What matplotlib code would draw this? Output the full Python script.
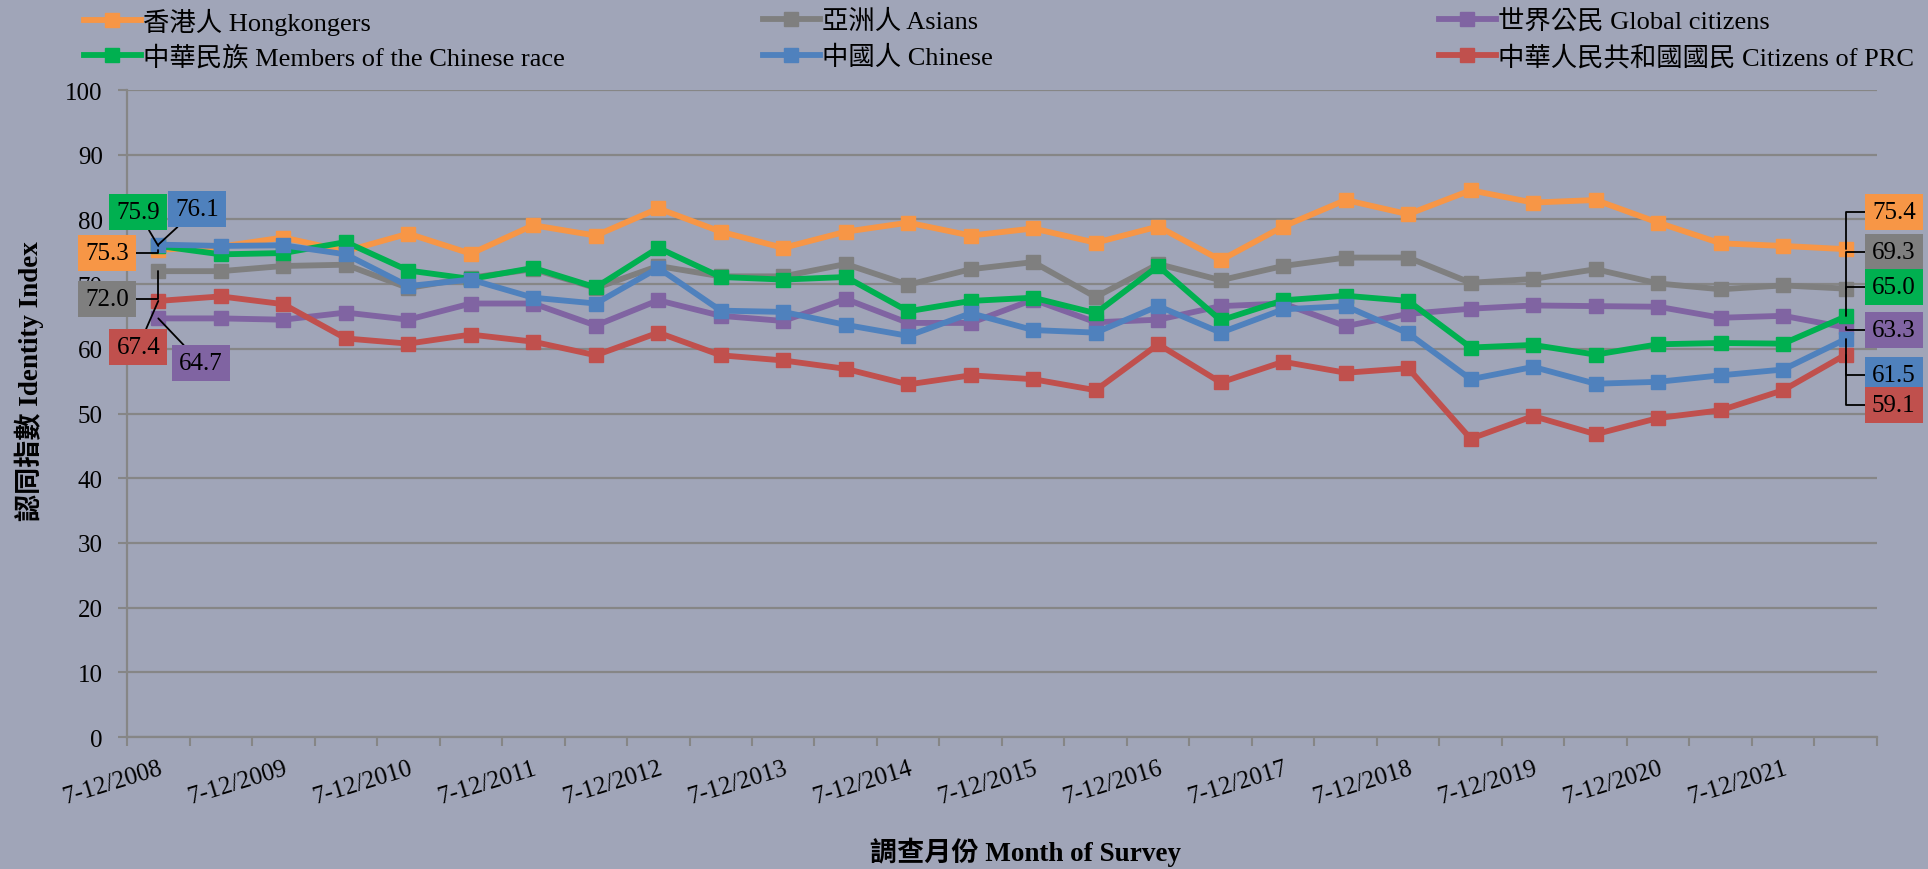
"""
Identity index of Hong Kong people, half-yearly surveys 7-12/2008 to 1-6/2022
"""

import matplotlib
matplotlib.use("Agg")
import matplotlib.pyplot as plt

plt.rcParams["font.family"] = ["Liberation Serif", "Noto Sans CJK TC"]

# ── Data ──────────────────────────────────────────────────────────────────────
years = list(range(2008, 2022))
periods = []
for y in years:
    periods.append(f"7-12/{y}")
    periods.append(f"1-6/{y + 1}")

hongkongers = [75.3, 75.8, 77.2, 75.1, 77.8, 74.7, 79.1, 77.5, 81.7, 78.1,
               75.6, 78.1, 79.5, 77.5, 78.6, 76.4, 78.9, 73.7, 78.9, 83.0,
               80.8, 84.5, 82.6, 83.0, 79.5, 76.3, 75.9, 75.4]
asians = [72.0, 72.0, 72.8, 73.0, 69.4, 71.0, 72.3, 69.4, 72.8, 71.2,
          71.2, 73.1, 69.9, 72.3, 73.4, 68.0, 73.1, 70.6, 72.8, 74.1,
          74.1, 70.2, 70.8, 72.3, 70.1, 69.2, 69.8, 69.3]
global_citizens = [64.7, 64.7, 64.5, 65.6, 64.5, 67.0, 67.0, 63.6, 67.5, 65.1,
                   64.3, 67.7, 64.0, 64.0, 67.6, 64.1, 64.5, 66.6, 67.0, 63.5,
                   65.4, 66.2, 66.7, 66.6, 66.5, 64.8, 65.1, 63.3]
chinese_race = [75.9, 74.6, 74.8, 76.5, 72.1, 70.8, 72.5, 69.5, 75.6, 71.1,
                70.7, 71.1, 65.8, 67.4, 67.9, 65.5, 72.8, 64.4, 67.5, 68.2,
                67.4, 60.2, 60.6, 59.1, 60.7, 60.9, 60.8, 65.0]
chinese = [76.1, 75.9, 76.0, 74.6, 69.7, 70.7, 67.9, 67.0, 72.5, 65.9,
           65.7, 63.7, 62.0, 65.5, 62.9, 62.5, 66.6, 62.5, 66.1, 66.6,
           62.4, 55.3, 57.2, 54.6, 54.9, 55.9, 56.8, 61.5]
prc_citizens = [67.4, 68.1, 66.9, 61.6, 60.8, 62.2, 61.1, 59.0, 62.5, 59.0,
                58.2, 56.9, 54.5, 55.9, 55.3, 53.6, 60.7, 54.8, 58.0, 56.3,
                57.0, 46.1, 49.6, 46.8, 49.3, 50.5, 53.6, 59.1]

series_names = ["香港人 Hongkongers", "亞洲人 Asians", "世界公民 Global citizens",
                "中華民族 Members of the Chinese race", "中國人 Chinese",
                "中華人民共和國國民 Citizens of PRC"]
series_values = [hongkongers, asians, global_citizens, chinese_race, chinese, prc_citizens]
colors = ["#F79646", "#7F7F7F", "#8064A2", "#00B050", "#4F81BD", "#C0504D"]

# label box positions (category x, value y) for first / last point
first_label_pos = [(-0.82, 74.8), (-0.82, 67.7), (0.68, 57.8),
                   (-0.32, 81.1), (0.62, 81.6), (-0.32, 60.3)]
first_label_conn = ["angle,angleA=0,angleB=90,rad=0", "angle,angleA=0,angleB=90,rad=0",
                    "arc3", "arc3", "arc3", "arc3"]
last_label_y = [81.1, 75.0, 62.9, 69.6, 55.9, 51.3]

BG = "#A0A5B8"
GRID = "#868686"

# ── Plot ──────────────────────────────────────────────────────────────────────
fig = plt.figure(figsize=(19.28, 8.70), dpi=100, facecolor=BG)
ax = fig.add_axes([0.0659, 0.1517, 0.9076, 0.7437], facecolor=BG)

x = list(range(len(periods)))
handles = []
for z, (name, vals, c) in enumerate(zip(series_names, series_values, colors)):
    ln, = ax.plot(x, vals, color=c, linewidth=4.2, marker="s", markersize=9.5,
                  label=name, zorder=3 + z, clip_on=False)
    handles.append(ln)

# data labels: first and last survey
for z, (vals, c) in enumerate(zip(series_values, colors)):
    bbox = dict(boxstyle="square,pad=0.28", fc=c, ec="none")
    ax.annotate(f"{vals[0]:.1f}", xy=(0, vals[0]), xytext=first_label_pos[z],
                ha="center", va="center", fontsize=18, bbox=bbox,
                annotation_clip=False, zorder=20 + z,
                arrowprops=dict(arrowstyle="-", color="black", lw=1.3,
                                shrinkA=0, shrinkB=0,
                                connectionstyle=first_label_conn[z]))
    last = len(vals) - 1
    ax.annotate(f"{vals[-1]:.1f}", xy=(last, vals[-1]), xytext=(27.77, last_label_y[z]),
                ha="center", va="center", fontsize=18, bbox=bbox,
                annotation_clip=False, zorder=20 + z,
                arrowprops=dict(arrowstyle="-", color="black", lw=1.3,
                                shrinkA=0, shrinkB=0,
                                connectionstyle="angle,angleA=0,angleB=90,rad=0"))

# axes
ax.set_xlim(-0.5, len(periods) - 0.5)
ax.set_ylim(0, 100)
ax.set_yticks(range(0, 101, 10))
ax.tick_params(axis="y", labelsize=18, length=6.5, width=1.5, color=GRID, pad=11)
ax.set_xticks(x[::2])
ax.set_xticklabels(periods[::2], rotation=17, ha="right", rotation_mode="anchor",
                   fontsize=18)
ax.set_xticks([i - 0.5 for i in range(len(periods) + 1)], minor=True)
ax.tick_params(axis="x", which="major", length=0, pad=14)
ax.tick_params(axis="x", which="minor", length=6.5, width=1.5, color=GRID)
ax.grid(axis="y", color=GRID, linewidth=1.6, zorder=0)
ax.set_axisbelow(True)
for side in ["top", "right"]:
    ax.spines[side].set_visible(False)
for side in ["left", "bottom"]:
    ax.spines[side].set_color(GRID)
    ax.spines[side].set_linewidth(1.6)

fig.text(0.015, 0.562, "認同指數 Identity Index", rotation=90, ha="center", va="center",
         fontsize=19.5, fontweight="bold")
fig.text(0.532, 0.02, "調查月份 Month of Survey", ha="center", va="center",
         fontsize=19.5, fontweight="bold")

# legend: two rows of three entries, each placed on its own
col_x = [0.0436, 0.3957, 0.7464]
row_y = [0.9747, 0.9333]
for k, h in enumerate(handles):
    fig.legend([h], [h.get_label()], loc="center left",
               bbox_to_anchor=(col_x[k % 3], row_y[k // 3]), frameon=False,
               fontsize=19, handlelength=2.15, handletextpad=0.1,
               borderpad=0.0, borderaxespad=0.0)

fig.savefig("out.png", dpi=100, facecolor=BG)
